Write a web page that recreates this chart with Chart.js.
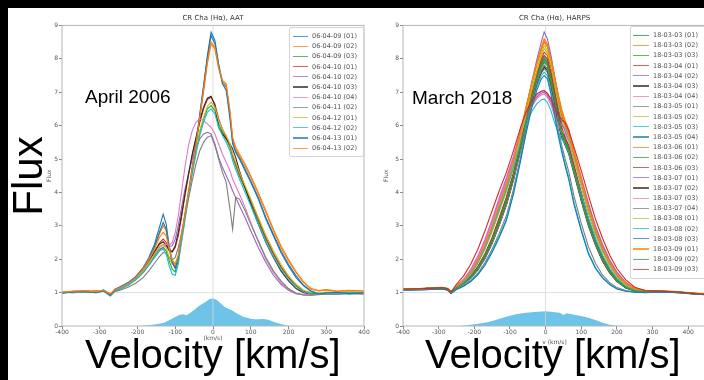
<!DOCTYPE html>
<html>
<head>
<meta charset="utf-8">
<script src="https://cdn.jsdelivr.net/npm/chart.js@4.4.1/dist/chart.umd.min.js"></script>
<style>
  html, body { margin: 0; padding: 0; }
  body { width: 704px; height: 380px; overflow: hidden; position: relative; background: #fff;
         font-family: "Liberation Sans", Arial, sans-serif; }
  .strip { position: absolute; background: #000; }
  .panel { position: absolute; }
  .big { position: absolute; color: #000; white-space: nowrap; }
  .legend { position: absolute; background: rgba(255,255,255,0.85); border: 1px solid #d4d4d4; border-radius: 2px;
            padding: 3px 0; font-family: "DejaVu Sans", sans-serif; font-size: 6.5px; color: #555; overflow: hidden; }
  .legend .row { height: 10.2px; display: flex; align-items: center; white-space: nowrap; }
  .legend .swatch { display: inline-block; height: 1.2px; flex: none; opacity: 0.75; }
</style>
</head>
<body>
<div class="strip" style="left:0;top:0;width:704px;height:8px"></div>
<div class="strip" style="left:0;top:0;width:8px;height:380px"></div>
<div class="panel" style="left:8px;top:8px"><canvas id="aatChart" width="370" height="340"></canvas></div>
<div class="panel" style="left:378px;top:8px"><canvas id="harpsChart" width="340" height="340"></canvas></div>
<div class="legend" id="aatLegend" style="left:289px;top:27px;width:73px"></div>
<div class="legend" id="harpsLegend" style="left:630px;top:26px;width:80px"></div>
<div class="big" style="left:85px;top:87px;font-size:19px;line-height:19px">April 2006</div>
<div class="big" style="left:412px;top:88px;font-size:19px;line-height:19px">March 2018</div>
<div class="big" style="left:-22px;top:154px;width:100px;height:44px;font-size:42px;line-height:44px;text-align:center;transform:rotate(-90deg)">Flux</div>
<div class="big" style="left:85px;top:334px;font-size:40px;line-height:40px">Velocity [km/s]</div>
<div class="big" style="left:425px;top:334px;font-size:40px;line-height:40px">Velocity [km/s]</div>
<script>
// ---- AAT, April 2006 ----
const velocityAAT = [-400, -370, -340, -310, -290, -272, -260, -245, -225, -205, -185, -170, -155, -142, -132,
  -124, -116, -108, -100, -92, -84, -75, -65, -55, -45, -35, -25, -15, -5, 5, 15, 25, 35, 45, 52,
  60, 70, 85, 100, 120, 140, 160, 180, 200, 220, 240, 260, 280, 300, 330, 360, 400];
const labelsAAT = ['06-04-09 (01)', '06-04-09 (02)', '06-04-09 (03)', '06-04-10 (01)', '06-04-10 (02)', '06-04-10 (03)',
  '06-04-10 (04)', '06-04-11 (02)', '06-04-12 (01)', '06-04-12 (02)', '06-04-13 (01)', '06-04-13 (02)'];
const aat0409a = [1.00,1.03,1.05,1.02,1.08, 0.95,1.10,1.18,1.30,1.48, 1.75,2.05,2.45,2.95,3.35, 3.05,2.40,1.95,1.75,2.10,
  2.70,3.30,4.00,4.75,5.50, 6.35,7.20,8.10,8.80,8.55, 7.85,7.30,7.15,6.30,5.55, 5.25,5.05,4.70,4.35,3.85,
  3.25,2.75,2.25,1.85,1.50, 1.22,1.05,0.97,1.00,1.02, 0.97,1.00];
const aat0409b = [1.02,1.05,1.03,1.06,1.05, 0.97,1.08,1.15,1.28,1.45, 1.72,2.00,2.35,2.75,3.00, 2.85,2.35,1.95,1.80,2.05,
  2.60,3.20,3.90,4.65,5.40, 6.20,7.00,7.85,8.45,8.30, 7.70,7.30,7.20,6.40,5.60, 5.30,5.10,4.80,4.45,3.95,
  3.40,2.85,2.35,1.95,1.60, 1.30,1.10,1.05,1.08,1.03, 1.06,1.04];
const aat0409c = [1.00,1.02,1.03,1.01,1.05, 0.94,1.06,1.12,1.24,1.40, 1.62,1.85,2.10,2.30,2.35, 2.25,1.95,1.70,1.62,1.95,
  2.55,3.20,3.95,4.65,5.25, 5.80,6.20,6.50,6.60,6.45, 6.05,5.80,5.60,5.35,5.05, 4.80,4.50,4.10,3.70,3.15,
  2.60,2.15,1.75,1.45,1.22, 1.05,0.98,0.97,1.00,0.99, 1.01,0.99];
const aat0410a = [1.01,1.03,1.02,1.04,1.06, 0.95,1.07,1.14,1.26,1.42, 1.66,1.92,2.22,2.48,2.60, 2.50,2.30,2.22,2.35,2.70,
  3.20,3.85,4.50,5.10,5.60, 6.10,6.50,6.78,6.85,6.65, 6.20,5.90,5.65,5.40,5.10, 4.85,4.55,4.15,3.75,3.20,
  2.65,2.18,1.78,1.45,1.20, 1.03,0.96,0.95,0.98,0.97, 0.99,0.98];
const aat0410b = [1.00,1.03,1.01,1.04,1.05, 0.93,1.05,1.11,1.22,1.38, 1.60,1.82,2.05,2.25,2.35, 2.40,2.38,2.40,2.60,3.00,
  3.50,4.05,4.55,5.00,5.35, 5.60,5.75,5.80,5.75,5.45, 5.05,4.75,4.50,4.25,4.05, 3.85,3.60,3.25,2.85,2.35,
  1.90,1.52,1.25,1.07,0.97, 0.93,0.93,0.95,0.97,0.96, 0.98,0.97];
const aat0410c = [1.00,1.02,1.03,1.02,1.07, 0.94,1.08,1.15,1.27,1.43, 1.68,1.93,2.22,2.45,2.52, 2.42,2.25,2.22,2.40,2.80,
  3.30,3.90,4.55,5.15,5.65, 6.15,6.55,6.82,6.88,6.60, 5.95,5.75,5.60,5.45,5.30, 5.05,4.65,4.15,3.65,3.05,
  2.50,2.05,1.65,1.35,1.12, 1.00,0.96,0.97,0.99,0.98, 1.00,0.99];
const aat0410d = [1.02,1.00,1.04,1.03,1.06, 0.92,1.06,1.12,1.25,1.42, 1.66,1.90,2.15,2.35,2.42, 2.45,2.42,2.50,2.80,3.30,
  3.95,4.70,5.40,5.85,6.10, 6.20,6.15,6.05,5.95,5.75, 5.45,5.15,4.90,4.65,4.40, 4.20,3.95,3.55,3.10,2.52,
  2.00,1.60,1.30,1.10,0.98, 0.94,0.93,0.95,0.97,0.96, 0.98,0.97];
const aat0411b = [1.01,1.00,1.03,1.02,1.04, 0.90,1.03,1.08,1.16,1.28, 1.45,1.65,1.88,2.08,2.20, 2.18,2.05,1.98,2.05,2.35,
  2.75,3.25,3.80,4.35,4.85, 5.25,5.50,5.65,5.70,5.40, 5.00,4.60,4.30,3.50,2.90, 3.85,3.80,3.45,3.05,2.55,
  2.05,1.65,1.35,1.12,0.98, 0.93,0.92,0.94,0.96,0.95, 0.97,0.96];
const aat0412a = [1.02,1.04,1.02,1.05,1.06, 0.96,1.07,1.14,1.25,1.41, 1.64,1.88,2.15,2.38,2.45, 2.35,2.05,1.85,1.85,2.15,
  2.70,3.35,4.05,4.75,5.35, 5.85,6.25,6.58,6.70,6.55, 6.15,5.90,5.70,5.45,5.15, 4.90,4.60,4.20,3.80,3.25,
  2.72,2.25,1.85,1.50,1.25, 1.07,1.00,0.99,1.02,1.00, 1.03,1.01];
const aat0412b = [0.99,1.01,1.03,1.00,1.04, 0.93,1.05,1.11,1.22,1.38, 1.60,1.82,2.05,2.25,2.30, 2.15,1.80,1.55,1.52,1.85,
  2.45,3.10,3.85,4.55,5.15, 5.70,6.10,6.40,6.50,6.35, 5.95,5.70,5.50,5.25,4.95, 4.70,4.40,4.00,3.60,3.05,
  2.52,2.08,1.70,1.40,1.18, 1.02,0.96,0.96,0.99,0.98, 1.00,0.98];
const aat0413a = [0.98,1.02,1.04,1.00,1.06, 0.93,1.08,1.16,1.28,1.46, 1.72,2.00,2.38,2.80,3.10, 2.90,2.30,1.90,1.72,2.05,
  2.65,3.25,3.95,4.70,5.45, 6.30,7.15,8.00,8.70,8.45, 7.80,7.25,7.05,6.20,5.45, 5.20,5.00,4.65,4.30,3.80,
  3.20,2.70,2.20,1.80,1.45, 1.20,1.03,0.96,0.99,1.01, 0.97,0.99];
const aat0413b = [1.01,1.04,1.06,1.03,1.07, 0.96,1.09,1.15,1.27,1.44, 1.70,1.98,2.30,2.65,2.80, 2.70,2.30,1.98,1.85,2.10,
  2.65,3.25,3.95,4.70,5.45, 6.25,7.05,7.90,8.50,8.35, 7.75,7.35,7.25,6.45,5.65, 5.35,5.15,4.85,4.50,4.00,
  3.45,2.90,2.40,2.00,1.62, 1.32,1.12,1.06,1.09,1.05, 1.07,1.05];
const seriesAAT = [aat0409a, aat0409b, aat0409c, aat0410a, aat0410b, aat0410c, aat0410d, aat0411b,
  aat0412a, aat0412b, aat0413a, aat0413b];
const spreadVelAAT = [-400, -200, -170, -150, -130, -115, -100, -90, -80, -70, -60, -50, -40, -30, -20, -10, 0, 10, 20, 30,
  40, 50, 60, 70, 80, 90, 100, 110, 120, 130, 140, 150, 160, 170, 180, 190, 200, 220, 400];
const spreadAAT = [0, 0, 0.02, 0.05, 0.1, 0.18, 0.27, 0.33, 0.35, 0.32, 0.4, 0.48, 0.58, 0.65, 0.72, 0.8, 0.83, 0.78, 0.68, 0.58,
  0.52, 0.47, 0.4, 0.34, 0.28, 0.25, 0.22, 0.2, 0.2, 0.21, 0.2, 0.17, 0.13, 0.09, 0.06, 0.03, 0.01, 0, 0];

// ---- HARPS, March 2018 ----
const velocityHARPS = [-400, -340, -290, -275, -265, -250, -230, -210, -190, -170, -150, -130, -110, -90, -70,
  -55, -40, -25, -12, -4, 5, 15, 25, 35, 45, 55, 65, 80, 100, 120, 140, 160, 180, 200, 225, 250, 280, 320, 370, 420, 450];
const labelsHARPS = ['18-03-03 (01)', '18-03-03 (02)', '18-03-03 (03)', '18-03-04 (01)', '18-03-04 (02)', '18-03-04 (03)',
  '18-03-04 (04)', '18-03-05 (01)', '18-03-05 (02)', '18-03-05 (03)', '18-03-05 (04)', '18-03-06 (01)', '18-03-06 (02)',
  '18-03-06 (03)', '18-03-07 (01)', '18-03-07 (02)', '18-03-07 (03)', '18-03-07 (04)', '18-03-08 (01)', '18-03-08 (02)',
  '18-03-08 (03)', '18-03-09 (01)', '18-03-09 (02)', '18-03-09 (03)'];
const h0303a = [1.08,1.11,1.13,1.10,1.00, 1.17,1.32,1.56,1.90,2.33, 2.86,3.48,4.08,4.78,5.65, 6.30,6.90,7.45,7.85,8.00,
  7.90,7.55,7.05,6.55,6.10, 5.82,5.58,4.98,4.20,3.42, 2.76,2.24,1.82,1.48,1.23, 1.09,1.03,1.04,1.01,0.96, 0.94];
const h0303b = [1.10,1.12,1.15,1.12,1.02, 1.20,1.35,1.60,1.95,2.40, 2.95,3.60,4.20,4.90,5.80, 6.50,7.20,7.85,8.35,8.60,
  8.45,8.05,7.50,6.95,6.45, 6.10,5.85,5.20,4.40,3.60, 2.90,2.35,1.90,1.55,1.28, 1.12,1.05,1.05,1.02,0.98, 0.95];
const h0303c = [1.09,1.11,1.13,1.09,1.00, 1.15,1.29,1.48,1.75,2.12, 2.60,3.18,3.80,4.55,5.45, 6.15,6.85,7.48,7.88,8.05,
  7.95,7.55,7.00,6.40,5.92, 5.62,5.38,4.78,3.98,3.20, 2.58,2.06,1.68,1.40,1.18, 1.07,1.03,1.04,1.02,0.97, 0.95];
const h0304a = [1.10,1.12,1.15,1.11,1.02, 1.19,1.34,1.59,1.94,2.38, 2.92,3.55,4.15,4.85,5.75, 6.40,7.00,7.55,8.00,8.20,
  8.10,7.75,7.25,6.75,6.30, 6.00,5.75,5.10,4.30,3.50, 2.82,2.28,1.85,1.50,1.25, 1.10,1.04,1.04,1.02,0.97, 0.95];
const h0304b = [1.09,1.13,1.14,1.10,1.00, 1.18,1.33,1.58,1.92,2.35, 2.90,3.55,4.15,4.85,5.75, 6.50,7.25,7.95,8.50,8.80,
  8.60,8.10,7.50,6.90,6.40, 6.05,5.80,5.15,4.35,3.55, 2.85,2.30,1.85,1.50,1.25, 1.10,1.03,1.04,1.01,0.97, 0.94];
const h0304c = [1.10,1.12,1.14,1.10,1.00, 1.15,1.28,1.45,1.70,2.05, 2.50,3.05,3.65,4.40,5.30, 6.00,6.70,7.30,7.65,7.80,
  7.70,7.30,6.75,6.15,5.70, 5.45,5.20,4.60,3.80,3.05, 2.45,1.95,1.60,1.35,1.15, 1.05,1.02,1.04,1.02,0.97, 0.96];
const h0304d = [1.08,1.10,1.13,1.10,1.00, 1.20,1.40,1.70,2.10,2.60, 3.20,3.85,4.45,5.10,5.85, 6.30,6.65,6.90,7.02,7.05,
  6.95,6.75,6.45,6.20,6.05, 5.95,5.70,5.15,4.45,3.70, 3.00,2.45,1.98,1.62,1.30, 1.12,1.04,1.04,1.01,0.97, 0.95];
const h0305a = [1.08,1.10,1.12,1.08,0.99, 1.11,1.22,1.37,1.58,1.90, 2.30,2.78,3.30,4.10,5.08, 5.88,6.62,7.22,7.58,7.70,
  7.60,7.15,6.52,5.92,5.42, 5.00,4.62,3.88,3.08,2.38, 1.88,1.52,1.30,1.15,1.06, 1.02,1.01,1.03,1.01,0.96, 0.95];
const h0305b = [1.11,1.12,1.16,1.12,1.03, 1.19,1.34,1.58,1.93,2.38, 2.92,3.55,4.15,4.85,5.70, 6.40,7.05,7.65,8.15,8.40,
  8.25,7.90,7.40,6.90,6.40, 6.05,5.80,5.15,4.35,3.55, 2.88,2.33,1.88,1.53,1.27, 1.11,1.04,1.05,1.02,0.98, 0.96];
const h0305c = [1.07,1.09,1.11,1.08,0.98, 1.10,1.20,1.35,1.55,1.85, 2.25,2.70,3.20,4.00,5.00, 5.80,6.55,7.15,7.50,7.60,
  7.50,7.05,6.40,5.80,5.30, 4.85,4.45,3.70,2.90,2.20, 1.75,1.45,1.25,1.12,1.05, 1.02,1.01,1.03,1.01,0.96, 0.95];
const h0305d = [1.10,1.12,1.14,1.10,1.01, 1.16,1.30,1.49,1.77,2.15, 2.63,3.22,3.82,4.55,5.45, 6.12,6.80,7.40,7.75,7.90,
  7.80,7.42,6.88,6.30,5.82, 5.55,5.30,4.70,3.90,3.12, 2.52,2.02,1.65,1.38,1.17, 1.06,1.02,1.04,1.02,0.97, 0.95];
const h0306a = [1.10,1.13,1.15,1.11,1.01, 1.21,1.37,1.62,1.98,2.45, 3.00,3.65,4.25,4.95,5.85, 6.55,7.20,7.80,8.25,8.50,
  8.35,7.95,7.45,6.95,6.50, 6.15,5.90,5.25,4.45,3.65, 2.95,2.40,1.95,1.58,1.30, 1.13,1.06,1.06,1.03,0.99, 0.96];
const h0306b = [1.11,1.12,1.15,1.11,1.02, 1.16,1.29,1.47,1.74,2.10, 2.57,3.14,3.75,4.50,5.40, 6.10,6.80,7.42,7.80,7.95,
  7.85,7.45,6.92,6.32,5.85, 5.58,5.33,4.72,3.92,3.15, 2.54,2.03,1.66,1.38,1.17, 1.06,1.03,1.05,1.02,0.97, 0.96];
const h0306c = [1.10,1.12,1.14,1.10,1.00, 1.16,1.30,1.50,1.78,2.16, 2.65,3.24,3.86,4.60,5.50, 6.20,6.92,7.55,7.95,8.10,
  8.00,7.60,7.05,6.45,5.95, 5.65,5.40,4.80,4.00,3.22, 2.60,2.08,1.70,1.41,1.19, 1.07,1.03,1.04,1.02,0.97, 0.95];
const h0307a = [1.09,1.11,1.14,1.10,1.01, 1.19,1.38,1.67,2.06,2.55, 3.13,3.78,4.38,5.02,5.78, 6.24,6.60,6.85,6.97,7.00,
  6.90,6.70,6.40,6.15,6.00, 5.90,5.65,5.10,4.40,3.65, 2.96,2.41,1.95,1.60,1.29, 1.11,1.04,1.04,1.01,0.97, 0.95];
const h0307b = [1.09,1.11,1.13,1.09,0.99, 1.14,1.27,1.44,1.68,2.02, 2.47,3.02,3.62,4.38,5.28, 5.98,6.66,7.25,7.60,7.75,
  7.65,7.25,6.70,6.10,5.65, 5.40,5.15,4.55,3.75,3.00, 2.42,1.93,1.58,1.33,1.14, 1.05,1.02,1.03,1.01,0.96, 0.95];
const h0307c = [1.08,1.10,1.13,1.09,0.99, 1.18,1.37,1.66,2.05,2.53, 3.10,3.74,4.33,4.98,5.74, 6.20,6.55,6.80,6.92,6.95,
  6.85,6.62,6.30,6.02,5.85, 5.75,5.52,4.98,4.30,3.56, 2.88,2.34,1.90,1.56,1.26, 1.10,1.03,1.03,1.00,0.96, 0.94];
const h0307d = [1.09,1.11,1.13,1.09,0.99, 1.14,1.26,1.43,1.68,2.03, 2.48,3.02,3.62,4.36,5.26, 5.96,6.66,7.28,7.64,7.80,
  7.70,7.30,6.76,6.16,5.70, 5.44,5.18,4.58,3.78,3.02, 2.44,1.95,1.60,1.34,1.15, 1.05,1.02,1.03,1.01,0.96, 0.95];
const h0308a = [1.10,1.12,1.15,1.11,1.02, 1.17,1.31,1.54,1.87,2.30, 2.82,3.42,4.02,4.75,5.65, 6.35,7.00,7.60,8.08,8.30,
  8.18,7.80,7.25,6.70,6.20, 5.88,5.62,5.00,4.20,3.42, 2.75,2.22,1.80,1.47,1.22, 1.08,1.03,1.04,1.01,0.97, 0.95];
const h0308b = [1.07,1.09,1.12,1.08,0.98, 1.14,1.30,1.55,1.90,2.35, 2.90,3.50,4.10,4.75,5.50, 6.00,6.40,6.65,6.77,6.80,
  6.70,6.45,6.10,5.80,5.60, 5.45,5.20,4.65,3.95,3.25, 2.62,2.12,1.72,1.42,1.18, 1.06,1.02,1.03,1.00,0.96, 0.94];
const h0308c = [1.07,1.09,1.11,1.07,0.97, 1.09,1.19,1.33,1.53,1.82, 2.20,2.65,3.15,3.95,4.95, 5.75,6.48,7.05,7.40,7.50,
  7.40,6.95,6.32,5.72,5.22, 4.78,4.38,3.62,2.85,2.16, 1.72,1.43,1.24,1.11,1.04, 1.01,1.00,1.02,1.00,0.95, 0.94];
const h0309a = [1.09,1.11,1.14,1.12,1.02, 1.20,1.36,1.61,1.96,2.42, 2.97,3.62,4.22,4.92,5.82, 6.52,7.22,7.85,8.30,8.55,
  8.40,8.00,7.45,6.92,6.42, 6.08,5.82,5.18,4.38,3.58, 2.90,2.34,1.90,1.54,1.27, 1.11,1.04,1.05,1.02,0.98, 0.95];
const h0309b = [1.10,1.12,1.14,1.10,1.01, 1.15,1.28,1.47,1.74,2.11, 2.59,3.16,3.77,4.52,5.42, 6.12,6.82,7.42,7.77,7.90,
  7.80,7.40,6.86,6.26,5.78, 5.50,5.26,4.66,3.86,3.10, 2.50,2.00,1.63,1.36,1.16, 1.06,1.02,1.04,1.02,0.97, 0.95];
const h0309c = [1.10,1.12,1.15,1.12,1.02, 1.25,1.50,1.85,2.30,2.85, 3.45,4.05,4.60,5.25,5.95, 6.40,6.72,6.95,7.03,7.05,
  6.97,6.80,6.55,6.32,6.18, 6.08,5.85,5.35,4.65,3.92, 3.20,2.62,2.12,1.72,1.38, 1.16,1.06,1.05,1.02,0.97, 0.95];
const seriesHARPS = [h0303a, h0303b, h0303c, h0304a, h0304b, h0304c, h0304d, h0305a, h0305b, h0305c, h0305d,
  h0306a, h0306b, h0306c, h0307a, h0307b, h0307c, h0307d, h0308a, h0308b, h0308c, h0309a, h0309b, h0309c];
const spreadVelHARPS = [-400, -240, -220, -200, -180, -160, -140, -120, -100, -80, -60, -40, -20, 0, 20,
  40, 50, 60, 80, 100, 120, 140, 160, 180, 200, 220, 450];
const spreadHARPS = [0, 0, 0.02, 0.05, 0.08, 0.12, 0.18, 0.25, 0.31, 0.36, 0.39, 0.41, 0.43, 0.44, 0.42,
  0.4, 0.33, 0.38, 0.34, 0.3, 0.25, 0.18, 0.1, 0.04, 0.01, 0, 0];

const fluxTicks = [0, 9];
const continuumLevel = 1;
const restVelocity = 0;

// matplotlib default cycle (the brown reads almost black in the figure)
const tab10 = ['#1f77b4', '#ff7f0e', '#2ca02c', '#d62728', '#9467bd', '#3a2820', '#e377c2', '#7f7f7f', '#bcbd22', '#17becf'];
const spreadColor = '#6ec3e9';
const smallFont = { family: 'DejaVu Sans', size: 6 };

const framePlugin = {
  id: 'frame',
  afterDatasetsDraw(chart) {
    const { ctx, chartArea: a } = chart;
    ctx.save();
    ctx.strokeStyle = '#b5b5b5';
    ctx.lineWidth = 1;
    ctx.strokeRect(a.left, a.top, a.right - a.left, a.bottom - a.top);
    ctx.restore();
  }
};

function makeChart(canvasId, cfg) {
  const datasets = [{
    data: cfg.spreadVel.map((v, i) => ({ x: v, y: cfg.spread[i] })),
    backgroundColor: spreadColor, borderWidth: 0, pointRadius: 0, fill: 'origin', order: 1000
  }, {
    data: [{ x: cfg.xMin, y: continuumLevel }, { x: cfg.xMax, y: continuumLevel }],
    borderColor: '#d6d6d6', borderWidth: 0.8, pointRadius: 0, fill: false, order: 999
  }, {
    data: [{ x: restVelocity, y: fluxTicks[0] }, { x: restVelocity, y: fluxTicks[1] }],
    borderColor: '#d6d6d6', borderWidth: 0.8, pointRadius: 0, fill: false, order: 998
  }];
  cfg.series.forEach((s, i) => {
    datasets.push({
      label: cfg.labels[i],
      data: cfg.velocity.map((v, j) => ({ x: v, y: s[j] })),
      borderColor: tab10[i % 10], borderWidth: 1.1, pointRadius: 0, fill: false, order: 500 - i
    });
  });

  return new Chart(document.getElementById(canvasId), {
    type: 'line',
    data: { datasets },
    options: {
      responsive: false,
      animation: false,
      layout: { padding: cfg.padding },
      plugins: {
        legend: { display: false },
        tooltip: { enabled: false },
        title: {
          display: true, text: cfg.title, fullSize: false, color: '#333',
          font: { family: 'DejaVu Sans', size: 7, weight: 'normal' },
          padding: { top: 6, bottom: 3 }
        }
      },
      scales: {
        x: {
          type: 'linear', min: cfg.xMin, max: cfg.xMax,
          ticks: { stepSize: 100, includeBounds: false, autoSkip: false, maxRotation: 0, font: smallFont, color: '#555', padding: 0 },
          grid: { drawOnChartArea: false, tickLength: 3, tickColor: '#888' },
          border: { display: false },
          title: { display: true, text: cfg.xTitle, font: smallFont, color: '#555', padding: { top: 0, bottom: cfg.xTitlePad } },
          afterFit: s => { s.height = 20; s.paddingLeft = 0; s.paddingRight = 0; }
        },
        y: {
          min: fluxTicks[0], max: fluxTicks[1],
          ticks: { stepSize: 1, font: smallFont, color: '#555', padding: 1 },
          grid: { drawOnChartArea: false, tickLength: 3, tickColor: '#888' },
          border: { display: false },
          title: { display: true, text: 'Flux', font: smallFont, color: '#555', padding: { top: cfg.yTitlePad, bottom: 0 } },
          afterFit: s => { s.width = cfg.yWidth; s.paddingTop = 0; s.paddingBottom = 0; }
        }
      }
    },
    plugins: [framePlugin]
  });
}

function buildLegend(id, labels, indent, swatchWidth, gap) {
  const box = document.getElementById(id);
  labels.forEach((label, i) => {
    const row = document.createElement('div');
    row.className = 'row';
    row.innerHTML = `<span class="swatch" style="margin-left:${indent}px;width:${swatchWidth}px;margin-right:${gap}px;background:${tab10[i % 10]}"></span><span>${label}</span>`;
    box.appendChild(row);
  });
}

makeChart('aatChart', {
  title: 'CR Cha (H\u03b1), AAT', xTitle: '(km/s)', xMin: -400, xMax: 400,
  velocity: velocityAAT, series: seriesAAT, labels: labelsAAT,
  spreadVel: spreadVelAAT, spread: spreadAAT,
  padding: { left: 36, right: 14, top: 0, bottom: 2 }, yWidth: 18, yTitlePad: 2, xTitlePad: 4
});
makeChart('harpsChart', {
  title: 'CR Cha (H\u03b1), HARPS', xTitle: 'v (km/s)', xMin: -400, xMax: 450,
  velocity: velocityHARPS, series: seriesHARPS, labels: labelsHARPS,
  spreadVel: spreadVelHARPS, spread: spreadHARPS,
  padding: { left: 4, right: 12, top: 0, bottom: 2 }, yWidth: 21, yTitlePad: 1, xTitlePad: 0
});
buildLegend('aatLegend', labelsAAT, 3, 15, 4);
buildLegend('harpsLegend', labelsHARPS, 2, 16, 4);
</script>
</body>
</html>
